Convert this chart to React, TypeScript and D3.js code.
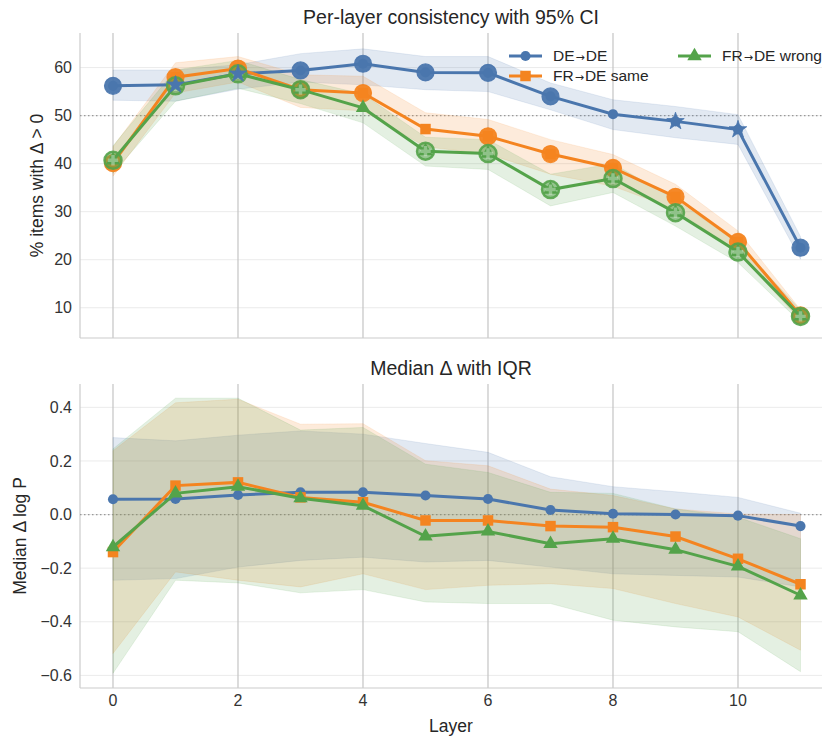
import React, { useEffect, useRef } from 'react';
import * as d3 from 'd3';

// layers on the x axis
const layers = [0, 1, 2, 3, 4, 5, 6, 7, 8, 9, 10, 11];
const xTicks = [0, 2, 4, 6, 8, 10];

// top panel: % items with delta > 0, with 95% CI
const deDeCons = [56.2, 56.4, 58.7, 59.4, 60.8, 59.0, 58.9, 54.0, 50.3, 48.8, 47.1, 22.5];
const deDeLo = [53.2, 53.0, 55.5, 57.0, 56.4, 55.4, 55.0, 51.2, 47.1, 45.4, 44.0, 20.1];
const deDeHi = [59.5, 59.5, 60.6, 62.9, 63.9, 62.3, 62.3, 56.8, 53.3, 51.9, 50.2, 24.8];
const frSameCons = [40.1, 58.0, 59.8, 55.4, 54.7, 47.2, 45.7, 42.0, 39.1, 33.1, 23.7, 8.4];
const frSameLo = [37.4, 54.7, 57.0, 51.7, 51.0, 43.5, 42.0, 37.8, 35.3, 30.5, 21.5, 7.4];
const frSameHi = [43.5, 61.0, 62.3, 58.5, 58.2, 50.6, 49.2, 45.0, 41.9, 35.7, 26.0, 9.6];
const frWrongCons = [40.7, 56.2, 58.7, 55.4, 51.6, 42.6, 42.1, 34.6, 36.9, 29.8, 21.6, 8.2];
const frWrongLo = [38.0, 53.0, 55.7, 52.5, 48.5, 39.5, 38.8, 31.2, 34.0, 27.0, 19.4, 7.0];
const frWrongHi = [43.7, 59.5, 61.5, 57.5, 54.5, 45.5, 45.0, 37.8, 40.0, 32.5, 23.5, 9.5];

// significance overlay per layer
const deDeSig = ['big', 'star', 'star', 'big', 'big', 'big', 'big', 'big', 'none', 'star', 'star', 'big'];
const frSameSig = ['big', 'big', 'big', 'big', 'big', 'none', 'big', 'big', 'big', 'big', 'big', 'big'];
const frWrongSig = ['big', 'big', 'big', 'big', 'none', 'big', 'big', 'big', 'big', 'big', 'big', 'big'];

// bottom panel: median delta log P with IQR
const deDeMed = [0.057, 0.058, 0.073, 0.083, 0.083, 0.071, 0.058, 0.017, 0.003, 0.0, -0.004, -0.043];
const deDeQ1 = [-0.245, -0.239, -0.196, -0.171, -0.159, -0.177, -0.171, -0.196, -0.221, -0.227, -0.233, -0.27];
const deDeQ3 = [0.287, 0.275, 0.296, 0.312, 0.3, 0.265, 0.232, 0.141, 0.104, 0.085, 0.064, 0.005];
const frSameMed = [-0.14, 0.108, 0.12, 0.064, 0.046, -0.022, -0.022, -0.043, -0.047, -0.082, -0.165, -0.26];
const frSameQ1 = [-0.518, -0.214, -0.245, -0.27, -0.221, -0.28, -0.264, -0.258, -0.276, -0.332, -0.382, -0.506];
const frSameQ3 = [0.238, 0.417, 0.43, 0.337, 0.339, 0.201, 0.182, 0.095, 0.071, 0.021, 0.002, 0.0];
const frWrongMed = [-0.121, 0.079, 0.104, 0.061, 0.033, -0.081, -0.063, -0.109, -0.09, -0.131, -0.193, -0.301];
const frWrongQ1 = [-0.592, -0.245, -0.255, -0.292, -0.28, -0.326, -0.332, -0.332, -0.394, -0.419, -0.437, -0.586];
const frWrongQ3 = [0.245, 0.434, 0.434, 0.315, 0.325, 0.188, 0.157, 0.083, 0.079, 0.021, -0.01, -0.09];

const topTicks = [10, 20, 30, 40, 50, 60];
const botTicks = [-0.6, -0.4, -0.2, 0.0, 0.2, 0.4];

const BLUE = '#4a76ad';
const ORANGE = '#f48420';
const GREEN = '#54a34a';
const FONT = '"Liberation Sans", Arial, sans-serif';

const App = () => {
  const ref = useRef<SVGSVGElement>(null);

  useEffect(() => {
    const svg = d3.select(ref.current);
    svg.selectAll('*').remove();

    const left = 80, right = 822;
    const x = d3.scaleLinear().domain([-0.528, 11.344]).range([left, right]);

    const series = [
      { name: 'DE', color: BLUE, sym: d3.symbolCircle, size: 80, cons: deDeCons, lo: deDeLo, hi: deDeHi, sig: deDeSig, med: deDeMed, q1: deDeQ1, q3: deDeQ3, hollow: false },
      { name: 'FRs', color: ORANGE, sym: d3.symbolSquare, size: 110, cons: frSameCons, lo: frSameLo, hi: frSameHi, sig: frSameSig, med: frSameMed, q1: frSameQ1, q3: frSameQ3, hollow: false },
      { name: 'FRw', color: GREEN, sym: d3.symbolTriangle, size: 90, cons: frWrongCons, lo: frWrongLo, hi: frWrongHi, sig: frWrongSig, med: frWrongMed, q1: frWrongQ1, q3: frWrongQ3, hollow: true },
    ];

    const panel = (top: number, bottom: number, domain: number[], ticks: number[], fmt: (v: number) => string, ref0: number, title: string, ylab: string, labX: number) => {
      const y = d3.scaleLinear().domain(domain).range([bottom, top]);
      const g = svg.append('g');

      // grid
      g.selectAll('line.hg').data(ticks).enter().append('line')
        .attr('x1', left).attr('x2', right)
        .attr('y1', d => y(d)).attr('y2', d => y(d))
        .attr('stroke', '#ebebeb').attr('stroke-width', 1);
      g.selectAll('line.vg').data(xTicks).enter().append('line')
        .attr('x1', d => x(d)).attr('x2', d => x(d))
        .attr('y1', top).attr('y2', bottom)
        .attr('stroke', '#c4c4c4').attr('stroke-width', 1.2);

      // spines
      g.append('line').attr('x1', left).attr('x2', left).attr('y1', top).attr('y2', bottom).attr('stroke', '#cccccc').attr('stroke-width', 1.2);
      g.append('line').attr('x1', left).attr('x2', right).attr('y1', bottom).attr('y2', bottom).attr('stroke', '#cccccc').attr('stroke-width', 1.2);

      // y tick labels
      g.selectAll('text.yt').data(ticks).enter().append('text')
        .attr('x', left - 8).attr('y', d => y(d)).attr('dy', '0.35em')
        .attr('text-anchor', 'end').attr('font-size', 16).attr('fill', '#333')
        .text(fmt);

      // reference line
      g.append('line').attr('x1', left).attr('x2', right).attr('y1', y(ref0)).attr('y2', y(ref0))
        .attr('stroke', '#999').attr('stroke-width', 1.2).attr('stroke-dasharray', '1.5,2.5');

      g.append('text').attr('x', (left + right) / 2).attr('y', top - 9)
        .attr('text-anchor', 'middle').attr('font-size', 19.5).attr('fill', '#262626').text(title);

      g.append('text')
        .attr('transform', `translate(${labX}, ${(top + bottom) / 2}) rotate(-90)`)
        .attr('text-anchor', 'middle').attr('font-size', 17.5).attr('fill', '#262626').text(ylab);

      return { g, y };
    };

    // ---- top panel
    const tp = panel(33, 338, [3.7, 67.2], topTicks, d => String(d), 50, 'Per-layer consistency with 95% CI', '% items with Δ > 0', 43);
    series.forEach(s => {
      const area = d3.area<number>().x(i => x(layers[i])).y0(i => tp.y(s.lo[i])).y1(i => tp.y(s.hi[i]));
      tp.g.append('path').attr('d', area(layers.map((_, i) => i)))
        .attr('fill', s.color).attr('fill-opacity', 0.16)
        .attr('stroke', s.color).attr('stroke-opacity', 0.12).attr('stroke-width', 1);
    });
    series.forEach(s => {
      const line = d3.line<number>().x(i => x(layers[i])).y(i => tp.y(s.cons[i]));
      tp.g.append('path').attr('d', line(layers.map((_, i) => i)))
        .attr('fill', 'none').attr('stroke', s.color).attr('stroke-width', 3);
      tp.g.selectAll(null).data(layers).enter().append('path')
        .attr('transform', (d, i) => `translate(${x(d)},${tp.y(s.cons[i])})`)
        .attr('d', d3.symbol(s.sym, s.size)())
        .attr('fill', s.color);
      tp.g.selectAll(null).data(layers.filter((_, i) => s.sig[i] === 'big')).enter().append('circle')
        .attr('cx', d => x(d)).attr('cy', d => tp.y(s.cons[d]))
        .attr('r', 8.5)
        .attr('fill', s.color).attr('fill-opacity', s.hollow ? 0.55 : 0.95)
        .attr('stroke', s.color).attr('stroke-width', s.hollow ? 2.5 : 1.2)
        .attr('stroke-opacity', 0.9);
      if (s.hollow) {
        tp.g.selectAll(null).data(layers.filter((_, i) => s.sig[i] === 'big')).enter().append('path')
          .attr('transform', d => `translate(${x(d)},${tp.y(s.cons[d])})`)
          .attr('d', d3.symbol(d3.symbolCross, 60)())
          .attr('fill', '#ffffff').attr('fill-opacity', 0.35);
      }
    });
    series.forEach(s => {
      tp.g.selectAll(null).data(layers.filter((_, i) => s.sig[i] === 'star')).enter().append('path')
        .attr('transform', d => `translate(${x(d)},${tp.y(s.cons[d])})`)
        .attr('d', d3.symbol(d3.symbolStar, 95)())
        .attr('fill', s.color).attr('stroke', s.color).attr('stroke-width', 0.8);
    });

    // legend
    const leg = [
      { s: series[0], lx: 509, ly: 56, a: 'DE', b: 'DE' },
      { s: series[1], lx: 509, ly: 76, a: 'FR', b: 'DE same' },
      { s: series[2], lx: 678, ly: 56, a: 'FR', b: 'DE wrong' },
    ];
    leg.forEach(l => {
      tp.g.append('line').attr('x1', l.lx).attr('x2', l.lx + 33).attr('y1', l.ly).attr('y2', l.ly)
        .attr('stroke', l.s.color).attr('stroke-width', 3);
      tp.g.append('path').attr('transform', `translate(${l.lx + 16.5},${l.ly})`)
        .attr('d', d3.symbol(l.s.sym, l.s.size)()).attr('fill', l.s.color);
      const t = tp.g.append('text').attr('x', l.lx + 44).attr('y', l.ly).attr('dy', '0.35em')
        .attr('font-size', 15.5).attr('fill', '#262626');
      t.append('tspan').text(l.a);
      t.append('tspan').attr('font-size', 11).attr('dx', 1).attr('font-family', '"DejaVu Sans", sans-serif').text('→');
      t.append('tspan').attr('dx', 1).text(l.b);
    });

    // ---- bottom panel
    const minus = (v: number) => d3.format('.1f')(v).replace('-', '−');
    const bp = panel(384, 688, [-0.647, 0.487], botTicks, minus, 0, 'Median Δ with IQR', 'Median Δ log P', 26);
    series.forEach(s => {
      const area = d3.area<number>().x(i => x(layers[i])).y0(i => bp.y(s.q1[i])).y1(i => bp.y(s.q3[i]));
      bp.g.append('path').attr('d', area(layers.map((_, i) => i)))
        .attr('fill', s.color).attr('fill-opacity', 0.16)
        .attr('stroke', s.color).attr('stroke-opacity', 0.12).attr('stroke-width', 1);
    });
    series.forEach(s => {
      const line = d3.line<number>().x(i => x(layers[i])).y(i => bp.y(s.med[i]));
      bp.g.append('path').attr('d', line(layers.map((_, i) => i)))
        .attr('fill', 'none').attr('stroke', s.color).attr('stroke-width', 3);
      bp.g.selectAll(null).data(layers).enter().append('path')
        .attr('transform', (d, i) => `translate(${x(d)},${bp.y(s.med[i])})`)
        .attr('d', d3.symbol(s.sym, s.size)())
        .attr('fill', s.color);
    });

    // x tick labels and label
    svg.selectAll('text.xt').data(xTicks).enter().append('text')
      .attr('x', d => x(d)).attr('y', 706)
      .attr('text-anchor', 'middle').attr('font-size', 16).attr('fill', '#333')
      .text(d => String(d));
    svg.append('text').attr('x', (left + right) / 2).attr('y', 732)
      .attr('text-anchor', 'middle').attr('font-size', 17.5).attr('fill', '#262626').text('Layer');
  });

  return (
    <svg ref={ref} width={823} height={740}
      style={{ position: 'absolute', left: 0, top: 0, background: '#fff', fontFamily: FONT }} />
  );
};

export default App;
